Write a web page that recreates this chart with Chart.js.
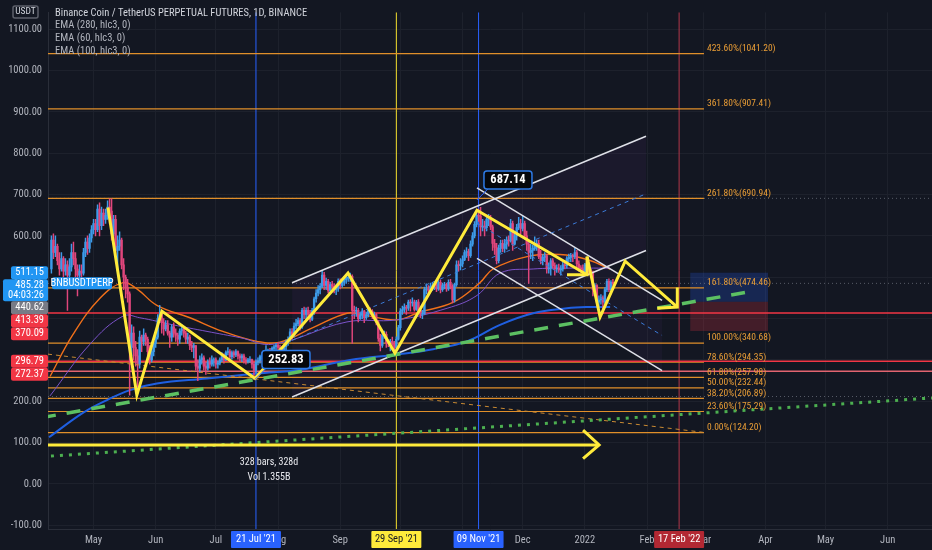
<!DOCTYPE html>
<html>
<head>
<meta charset="utf-8">
<script src="https://cdn.jsdelivr.net/npm/chart.js@4.4.1/dist/chart.umd.min.js"></script>
<style>
html, body { margin: 0; padding: 0; background: #131722; }
canvas { display: block; }
</style>
</head>
<body>
<canvas id="bnbChart" width="932" height="550"></canvas>
<script>
// days are counted from 1 May 2021 (day 0)
const firstDay = -21;      // 10 Apr 2021
const firstOpen = 520;

// daily closes, Apr 2021 -> 15 Jan 2022
const closes = [
    590,560,575,540,520,545,515,530,505,525,560,545,520,505,515,510,560,585,570,595,615,
    630,615,665,625,655,640,650,670,660,605,640,565,575,590,530,500,475,460,330,365,330,310,290,355,345,360,350,320,300,320,340,
    355,400,410,390,375,385,365,355,380,365,360,350,370,375,365,350,355,335,330,335,285,280,300,305,285,280,295,290,300,300,
    290,292,300,312,300,318,320,308,318,312,320,310,305,310,300,296,300,301,290,275,295,298,308,310,306,318,322,315,328,332,336,
    330,328,320,332,342,350,368,362,382,388,395,380,420,410,420,410,398,420,448,462,470,478,505,480,490,468,482,478,470,474,490,
    480,488,494,498,500,502,420,418,420,400,408,418,402,410,420,418,408,410,392,352,335,360,362,342,340,345,340,330,350,378,
    418,422,428,425,440,438,440,422,440,420,410,412,470,472,468,478,480,482,472,488,470,480,482,472,488,478,445,482,530,528,532,
    542,560,562,552,580,600,628,650,648,622,624,620,640,642,622,582,572,540,570,582,570,580,590,588,630,580,600,620,630,618,
    630,600,580,560,565,570,580,582,550,540,548,552,520,522,540,528,520,522,518,520,530,528,545,548,552,550,560,532,522,520,512,
    530,532,512,510,470,480,440,445,450,440,470,490,470,488,485.28
];
const highs = [
    600,605,600,580,560,560,550,545,540,545,580,585,560,530,530,530,570,595,600,605,625,
    640,640,675,680,670,665,665,685,690,690,650,650,600,610,595,545,505,495,465,385,380,345,325,370,360,375,365,355,335,330,345,
    365,410,432,415,400,395,395,370,385,390,375,365,375,385,380,370,365,360,345,340,335,300,310,315,310,295,300,305,310,305,
    305,298,305,318,315,322,330,325,322,322,325,322,315,314,314,306,304,308,302,294,300,305,312,318,312,335,326,328,332,336,340,
    342,336,332,336,348,356,375,376,390,398,402,400,425,428,426,428,420,425,452,470,480,485,515,512,498,495,488,490,485,482,496,
    496,496,502,505,510,510,506,430,428,425,415,424,420,416,424,426,422,416,412,395,362,366,370,368,348,350,355,345,356,384,
    424,430,436,432,445,446,450,445,444,446,425,420,476,484,480,486,488,490,486,492,494,486,488,486,494,495,482,486,540,540,545,
    552,566,572,568,588,608,635,660,665,669,640,636,648,652,650,626,592,582,578,590,590,592,598,600,640,636,612,628,645,640,
    648,636,612,585,580,578,598,590,590,565,555,560,555,535,545,545,535,530,532,528,536,540,550,556,558,556,570,565,540,528,530,
    534,540,535,520,515,485,482,455,458,455,475,495,496,492,495
];
const lows = [
    510,545,550,530,505,515,500,505,420,495,515,530,500,455,490,495,505,550,555,560,585,
    605,600,610,600,615,625,630,640,630,590,600,555,515,565,520,470,450,440,215,310,300,285,235,280,320,335,335,305,290,295,310,
    330,350,395,365,360,370,360,330,345,355,345,335,340,360,355,340,340,325,320,305,275,250,270,290,275,265,275,280,285,285,
    280,280,288,296,292,298,312,300,302,305,308,302,298,296,292,290,292,294,280,253,268,288,292,302,298,304,305,310,312,315,325,
    325,320,312,315,320,335,345,350,355,375,382,372,376,400,398,404,392,395,410,440,455,460,475,470,470,462,462,470,462,458,466,
    472,476,480,485,490,490,340,400,405,392,398,400,390,398,404,410,400,402,385,345,322,330,352,330,332,322,335,322,325,348,
    372,410,415,410,420,418,430,418,420,415,402,400,410,460,455,465,468,470,465,468,462,466,472,466,468,472,438,440,478,515,518,
    525,540,548,540,548,575,595,622,635,600,612,600,612,625,615,565,555,532,535,560,562,560,568,575,585,565,578,590,615,605,
    612,592,565,485,545,540,565,565,545,532,530,538,510,510,505,522,505,512,512,505,515,520,522,538,538,538,545,525,515,512,505,
    508,522,505,500,455,455,430,425,435,412,435,465,465,468,480
];

// EMA lines: [day, price]
const ema60 = [[-21.7,260],[-10.3,361],[3.2,449],[14.7,487],[21.6,472],[31.6,432],[48.1,402],[64.5,369],[81.5,345],[93,343],
    [109.4,378],[126.4,413],[134.4,409],[151.3,397],[162.8,416],[179.2,439],[192.7,487],[199.2,520],[216.2,550],[232.6,555],[246.1,543],[257.6,520]];
const ema100 = [[-21.7,213],[-1.8,338],[14.7,406],[23.1,402],[39.6,385],[56.6,369],[73,354],[89.5,338],[126.4,392],[151.3,397],
    [176.3,425],[191.2,456],[202.7,510],[219.2,520],[236.1,522],[257.6,522]];
const ema280 = [[-22.2,113],[-5.3,172],[6.7,203],[18.2,227],[31.6,243],[56.6,255],[81.5,267],[103,276],[127.9,300],[152.8,314],
    [169.3,326],[186.2,345],[202.7,385],[219.2,413],[236.1,425],[246.1,428],[257.6,428]];

// axis
const monthDays = [0, 31, 61, 92, 123, 153, 184, 214, 245, 276, 304, 335, 365, 396];
const monthNames = ['May', 'Jun', 'Jul', 'Aug', 'Sep', 'Oct', 'Nov', 'Dec', '2022', 'Feb', 'Mar', 'Apr', 'May', 'Jun'];
const priceTicks = [-100, 0, 100, 200, 300, 400, 500, 600, 700, 800, 900, 1000, 1100];

// fibonacci extension
const fibPct = ['423.60%', '361.80%', '261.80%', '161.80%', '100.00%', '78.60%', '61.80%', '50.00%', '38.20%', '23.60%', '0.00%'];
const fibLevels = [1041.20, 907.41, 690.94, 474.46, 340.68, 294.35, 257.98, 232.44, 206.89, 175.29, 124.20];
const fibEndDay = 304.4;

// horizontal lines and marks
const redLevels = [413.39, 296.79, 272.37];
const dottedLevels = [485.28, 690.94, 211.5];
const markerDays = [81, 151, 192, 292];
const markerLabels = ["21 Jul '21", "29 Sep '21", "09 Nov '21", "17 Feb '22"];
const axisLabelValues = [511.15, 485.28, 440.62, 413.39, 370.09, 296.79, 272.37];

// drawings
const zigDays = [7.2, 21.6, 34.1, 80.5, 126.9, 150.3, 191.2, 246.1];
const zigPrices = [669, 215, 418, 255, 510, 317, 662, 506];
const zig2Days = [246.1, 252.6, 265.1, 291.1];
const zig2Prices = [550, 404, 539, 428];
const head1Days = [236.1, 246.1, 246.1];
const head1Prices = [506, 506, 550];
const head2Days = [281.1, 291.1, 291.1];
const head2Prices = [425, 428, 475];
const rangeDays = [-22.7, 252.1];
const rangePrice = 94.5;
const rangeHeadDays = [244.1, 252.1, 244.1];
const rangeHeadPrices = [130, 94.5, 61];
const ascDays = [99, 275.5];
const ascUpper = [486.8, 841.2];
const ascMid = [347.4, 701.8];
const ascLower = [210.3, 564.7];
const descDays = [191.2, 283.5];
const descUpper = [716, 444.2];
const descMid = [630.9, 359.2];
const descLower = [545.8, 274.1];
const greenDashDays = [-25.7, 327.4];
const greenDashPrices = [160.6, 465.4];
const greenDotDays = [-25.7, 418.1];
const greenDotPrices = [66, 208];
const orangeDashDays = [-22.7, 303.9];
const orangeDashPrices = [314, 125];
const positionDays = [297.5, 336.4];
const positionTarget = 511.15, positionEntry = 440.62, positionStop = 370.09;

const FONT = '"Liberation Sans Narrow", "Roboto Condensed", "DejaVu Sans Condensed", Roboto, sans-serif';
const UP = '#3d9be9', DOWN = '#e0467c';

const opens = closes.map((c, i) => i === 0 ? firstOpen : closes[i - 1]);
const candleColors = closes.map((c, i) => c >= opens[i] ? UP : DOWN);
const pts = (xs, ys) => xs.map((x, i) => ({ x: x, y: ys[i] }));
const flat = (xs, v) => xs.map(x => ({ x: x, y: v }));

function line(data, color, width, extra) {
    return Object.assign({
        type: 'line', data: data, borderColor: color, borderWidth: width,
        pointRadius: 0, fill: false, tension: 0, order: 4
    }, extra || {});
}

const datasets = [];

// candles
datasets.push({
    type: 'bar', data: closes.map((c, i) => ({ x: firstDay + i, y: [opens[i], c] })),
    backgroundColor: candleColors, barThickness: 1.7, grouped: false, order: 5
});
datasets.push({
    type: 'bar', data: closes.map((c, i) => ({ x: firstDay + i, y: [lows[i], highs[i]] })),
    backgroundColor: candleColors, barThickness: 0.8, grouped: false, order: 6
});

// channel fills
const ascFillIdx = datasets.length;
datasets.push(line(pts(ascDays, ascLower), 'rgba(0,0,0,0)', 0, { order: 20 }));
datasets.push(line(pts(ascDays, ascUpper), 'rgba(0,0,0,0)', 0, { order: 20, fill: ascFillIdx, backgroundColor: 'rgba(140,60,170,0.075)' }));
const descFillIdx = datasets.length;
datasets.push(line(pts(descDays, descLower), 'rgba(0,0,0,0)', 0, { order: 20 }));
datasets.push(line(pts(descDays, descUpper), 'rgba(0,0,0,0)', 0, { order: 20, fill: descFillIdx, backgroundColor: 'rgba(140,60,170,0.06)' }));

// long position tool
datasets.push(line(flat(positionDays, positionTarget), 'rgba(0,0,0,0)', 0, { order: 19, fill: { value: positionEntry }, backgroundColor: 'rgba(41,98,255,0.22)' }));
datasets.push(line(flat(positionDays, positionStop), 'rgba(0,0,0,0)', 0, { order: 19, fill: { value: positionEntry }, backgroundColor: 'rgba(242,54,69,0.22)' }));

// fib, red and dotted horizontals
fibLevels.forEach(v => datasets.push(line(flat([-22.7, fibEndDay], v), '#e08f2a', 1.2, { order: 9 })));
redLevels.forEach((v, i) => datasets.push(line(flat([-22.7, 418.1], v), i === 2 ? '#e2646f' : '#f23645', 1.5, { order: 8 })));
dottedLevels.forEach(v => datasets.push(line(flat([-22.7, 418.1], v), 'rgba(134,138,150,0.6)', 1, { order: 10, borderDash: [1, 3] })));

// vertical markers
const markerColors = ['#2962ff', '#f5e02e', '#2962ff', '#b2374a'];
markerDays.forEach((d, i) => datasets.push(line([{ x: d, y: -109 }, { x: d, y: 1141 }], markerColors[i], 1, { order: 11 })));

// EMAs
datasets.push(line(ema280.map(p => ({ x: p[0], y: p[1] })), '#1f5fe0', 2, { order: 7, tension: 0.4 }));
datasets.push(line(ema100.map(p => ({ x: p[0], y: p[1] })), '#7b52c9', 1, { order: 7, tension: 0.4 }));
datasets.push(line(ema60.map(p => ({ x: p[0], y: p[1] })), '#f0701a', 1.4, { order: 7, tension: 0.4 }));

// trend lines and channels
datasets.push(line(pts(orangeDashDays, orangeDashPrices), '#c98a33', 1, { order: 4, borderDash: [4, 4] }));
datasets.push(line(pts(ascDays, ascUpper), '#dfe1e8', 1.5, { order: 3 }));
datasets.push(line(pts(ascDays, ascLower), '#dfe1e8', 1.5, { order: 3 }));
datasets.push(line(pts(ascDays, ascMid), '#3b7bd8', 1, { order: 3, borderDash: [4, 4] }));
datasets.push(line(pts(descDays, descUpper), '#dfe1e8', 1.5, { order: 3 }));
datasets.push(line(pts(descDays, descLower), '#dfe1e8', 1.5, { order: 3 }));
datasets.push(line(pts(descDays, descMid), '#3b7bd8', 1, { order: 3, borderDash: [4, 4] }));
datasets.push(line(pts(greenDashDays, greenDashPrices), '#5cc062', 3.5, { order: 2, borderDash: [14, 11] }));
datasets.push(line(pts(greenDotDays, greenDotPrices), '#4caf50', 3, { order: 2, borderDash: [3, 6] }));

// yellow path drawings
const YEL = '#ffeb3b';
datasets.push(line(pts(zigDays, zigPrices), YEL, 3, { order: 1, borderJoinStyle: 'miter' }));
datasets.push(line(pts(head1Days, head1Prices), YEL, 3, { order: 1 }));
datasets.push(line(pts(zig2Days, zig2Prices), YEL, 3, { order: 1, borderJoinStyle: 'miter' }));
datasets.push(line(pts(head2Days, head2Prices), YEL, 3, { order: 1 }));
datasets.push(line(flat(rangeDays, rangePrice), YEL, 3, { order: 1 }));
datasets.push(line(pts(rangeHeadDays, rangeHeadPrices), YEL, 3, { order: 1 }));

function box(ctx, x, y, w, h, fill, stroke, r) {
    ctx.beginPath();
    ctx.roundRect(x, y, w, h, r || 0);
    ctx.fillStyle = fill;
    ctx.fill();
    if (stroke) { ctx.strokeStyle = stroke; ctx.lineWidth = 1.5; ctx.stroke(); }
}
function text(ctx, s, x, y, color, size, align, bold) {
    ctx.font = (bold ? 'bold ' : '') + size + 'px ' + FONT;
    ctx.fillStyle = color;
    ctx.textAlign = align || 'left';
    ctx.textBaseline = 'middle';
    ctx.fillText(s, x, y);
}

const background = {
    id: 'background',
    beforeDraw(chart) {
        const ctx = chart.ctx;
        ctx.save();
        ctx.fillStyle = '#131722';
        ctx.fillRect(0, 0, chart.width, chart.height);
        ctx.restore();
    }
};

const overlay = {
    id: 'overlay',
    afterDraw(chart) {
        const ctx = chart.ctx;
        const xs = chart.scales.x, ys = chart.scales.y;
        const area = chart.chartArea;
        ctx.save();

        // fib labels
        const fx = xs.getPixelForValue(fibEndDay) + 3;
        fibLevels.forEach((v, i) => {
            text(ctx, fibPct[i] + '(' + v.toFixed(2) + ')', fx, ys.getPixelForValue(v) - 5, '#e99d36', 9.5);
        });

        // price labels on drawings
        [[80.5, 252.83], [191.2, 687.14]].forEach(p => {
            const ax = xs.getPixelForValue(p[0]), ay = ys.getPixelForValue(p[1]);
            ctx.strokeStyle = '#2962ff'; ctx.lineWidth = 1;
            ctx.beginPath(); ctx.moveTo(ax, ay); ctx.lineTo(ax + 11, ay - 11); ctx.stroke();
            box(ctx, ax + 7, ay - 29, 48, 18, '#05070b', '#2e7be6', 3);
            text(ctx, p[1].toFixed(2), ax + 31, ay - 20, '#ffffff', 12.5, 'center', true);
        });

        // date range stats
        const rx = xs.getPixelForValue(87.5);
        text(ctx, '328 bars, 328d', rx, ys.getPixelForValue(52), '#e8e9ee', 10, 'center');
        text(ctx, 'Vol 1.355B', rx, ys.getPixelForValue(16.5), '#e8e9ee', 10, 'center');

        // symbol tag on the price line
        const py = ys.getPixelForValue(485.28);
        box(ctx, area.left + 4, py - 6, 60, 12, '#2196f3', null, 2);
        text(ctx, 'BNBUSDTPERP', area.left + 34, py, '#ffffff', 10.5, 'center');

        // legend
        text(ctx, 'Binance Coin / TetherUS PERPETUAL FUTURES, 1D, BINANCE', 55, 13, '#d1d4dc', 10.5);
        text(ctx, 'EMA (280, hlc3, 0)', 55, 25.5, '#b2b5be', 10.5);
        text(ctx, 'EMA (60, hlc3, 0)', 55, 38, '#b2b5be', 10.5);
        text(ctx, 'EMA (100, hlc3, 0)', 55, 51, '#b2b5be', 10.5);

        // price axis tags
        const tagColors = ['#2196f3', '#2196f3', '#787b86', '#f23645', '#f23645', '#f23645', '#f23645'];
        let bottom = -1e9;
        axisLabelValues.forEach((v, i) => {
            const h = i === 1 ? 22 : 13;
            const top = Math.max(ys.getPixelForValue(v) - 6.5, bottom);
            const left = i === 1 ? 3 : 11;
            box(ctx, left, top, 48 - left, h, tagColors[i], null, 2);
            text(ctx, v.toFixed(2), 44, top + 6.5, '#ffffff', 10.5, 'right');
            if (i === 1) text(ctx, '04:03:26', 44, top + 16.5, '#ffffff', 10.5, 'right');
            bottom = top + h;
        });
        box(ctx, 13, 6, 25, 12, '#131722', '#5d606b', 2);
        text(ctx, 'USDT', 25.5, 12, '#d1d4dc', 9.5, 'center');

        // time axis tags
        const tagFill = ['#2962ff', '#ffeb3b', '#2962ff', '#b22833'];
        const tagText = ['#ffffff', '#131722', '#ffffff', '#ffffff'];
        markerDays.forEach((d, i) => {
            const mx = xs.getPixelForValue(d);
            box(ctx, mx - 25, area.bottom + 2, 50, 17, tagFill[i], null, 1);
            text(ctx, markerLabels[i], mx, area.bottom + 10.5, tagText[i], 10.5, 'center');
        });
        ctx.restore();
    }
};

new Chart(document.getElementById('bnbChart').getContext('2d'), {
    type: 'bar',
    data: { datasets: datasets },
    options: {
        responsive: false,
        animation: false,
        devicePixelRatio: 1,
        layout: { padding: 0 },
        events: [],
        plugins: {
            legend: { display: false },
            tooltip: { enabled: false },
            filler: { drawTime: 'beforeDatasetsDraw' }
        },
        scales: {
            x: {
                type: 'linear', min: -22.7, max: 418.1, offset: false,
                afterBuildTicks: s => { s.ticks = monthDays.map(v => ({ value: v })); },
                afterFit: s => { s.height = 21; },
                ticks: {
                    callback: v => monthNames[monthDays.indexOf(v)],
                    color: '#b2b5be', font: { size: 10.5, family: FONT },
                    maxRotation: 0, autoSkip: false, padding: 5
                },
                grid: { color: '#1d212c', drawTicks: false, offset: false },
                border: { color: '#2a2e39' }
            },
            y: {
                type: 'linear', position: 'left', min: -109, max: 1141,
                afterBuildTicks: s => { s.ticks = priceTicks.map(v => ({ value: v })); },
                afterFit: s => { s.width = 48; },
                ticks: {
                    callback: v => v.toFixed(2),
                    color: '#b2b5be', font: { size: 10.5, family: FONT }, padding: 6
                },
                grid: { color: '#1d212c', drawTicks: false },
                border: { color: '#2a2e39' }
            }
        }
    },
    plugins: [background, overlay]
});
</script>
</body>
</html>
